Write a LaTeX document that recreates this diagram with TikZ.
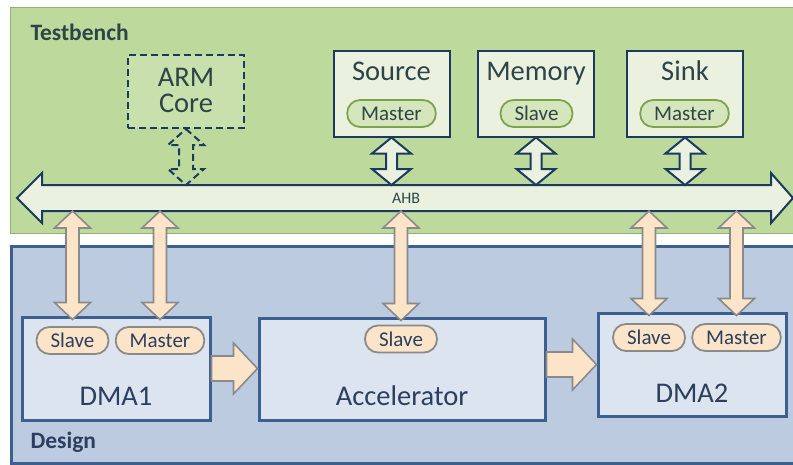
\documentclass[tikz,border=0pt]{standalone}
\usepackage{fontspec}
\setmainfont{Carlito}
\usepackage{xcolor}
\usetikzlibrary{calc, positioning}

\definecolor{tbgreen}{HTML}{BDD99B}
\definecolor{tbline}{HTML}{93AE78}
\definecolor{tbfill}{HTML}{EAF2DF}
\definecolor{armfill}{HTML}{C8E0AC}
\definecolor{navy}{HTML}{1C3A5E}
\definecolor{gpillfill}{HTML}{D5E5BC}
\definecolor{gpillline}{HTML}{7FA24F}
\definecolor{dsgfill}{HTML}{BDCBE0}
\definecolor{dsgline}{HTML}{3D5F8F}
\definecolor{dsgbox}{HTML}{DCE4F0}
\definecolor{peach}{HTML}{FCE4C8}
\definecolor{peachline}{HTML}{8A8A8A}
\definecolor{tbtext}{HTML}{2E4448}
\definecolor{dsgtext}{HTML}{2C3F5E}

% vertical double arrow: style, top, bottom, shaft half, head half, head length
\newcommand{\vdarrow}[6]{\draw[#1] let \p1=(#2), \p2=(#3) in
  (\x1,\y1) -- (\x1+#5,\y1-#6) -- (\x1+#4,\y1-#6) -- (\x1+#4,\y2+#6)
  -- (\x1+#5,\y2+#6) -- (\x1,\y2) -- (\x1-#5,\y2+#6) -- (\x1-#4,\y2+#6)
  -- (\x1-#4,\y1-#6) -- (\x1-#5,\y1-#6) -- cycle;}
% horizontal single arrow: from, to
\newcommand{\hsarrow}[2]{\draw[peacharrow] let \p1=(#1), \p2=(#2) in
  (\x1,\y1+12.5pt) -- (\x2-24pt,\y1+12.5pt) -- (\x2-24pt,\y1+25.5pt) -- (\x2,\y1)
  -- (\x2-24pt,\y1-25.5pt) -- (\x2-24pt,\y1-12.5pt) -- (\x1,\y1-12.5pt) -- cycle;}

\begin{document}
\begin{tikzpicture}[x=1pt, y=-1pt,
  tbpanel/.style={draw=tbline, line width=1pt, fill=tbgreen, anchor=north west},
  dsgpanel/.style={draw=dsgline, line width=3pt, fill=dsgfill, anchor=north west},
  title/.style={anchor=base west, font=\fontsize{23.5}{26}\selectfont\bfseries},
  tbbox/.style={draw=navy, line width=2pt, fill=tbfill, minimum width=116pt, minimum height=86pt},
  dsgbox/.style={draw=dsgline, line width=3pt, fill=dsgbox, minimum height=103pt},
  boxlabel/.style={anchor=base, font=\fontsize{28.5}{30}\selectfont},
  pill/.style={rounded corners=13pt, line width=1.8pt, inner xsep=14pt, inner ysep=0pt,
    minimum height=27pt, font=\fontsize{21}{22}\selectfont},
  gpill/.style={pill, draw=gpillline, fill=gpillfill, text=tbtext},
  opill/.style={pill, draw=peachline, fill=peach, text=dsgtext},
  tbarrow/.style={draw=navy, line width=2pt, fill=tbfill, line join=miter},
  armarrow/.style={draw=navy, line width=2pt, dash pattern=on 7pt off 4pt, fill=tbgreen},
  peacharrow/.style={draw=peachline, line width=1.6pt, fill=peach, line join=miter},
]
\useasboundingbox (0,0) rectangle (793,464);

% panels
\node[tbpanel, minimum width=800pt, minimum height=226pt] (tb) at (10,7) {};
\node[dsgpanel, minimum width=800pt, minimum height=217pt] (dsg) at (10,245) {};
\node[title, text=tbtext] (tbtitle) at (27,40) {Testbench};
\node[title, text=dsgtext] (dsgtitle) at (27,448) {Design};

% AHB bus
\draw[tbarrow] (17,198) -- (42,173) -- (42,185) -- (771,185) -- (771,173) -- (793,198)
  -- (771,223) -- (771,211) -- (42,211) -- (42,223) -- cycle;
\coordinate (bustop) at (0,185);
\coordinate (busbot) at (0,211);
\node[font=\fontsize{16}{18}\selectfont, text=tbtext] (ahb) at (406,198) {AHB};

% testbench
\node[tbbox, dash pattern=on 7pt off 4pt, fill=armfill, minimum height=73pt] (arm) at (186,91.5) {};
\node[boxlabel, text=tbtext, align=center, font=\fontsize{28.5}{26}\selectfont] (armlbl) at (186,112) {ARM\\Core};
\node[tbbox] (src) at (391.5,93.5) {};
\node[tbbox] (mem) at (536,93.5) {};
\node[tbbox] (sink) at (685,93.5) {};
\node[boxlabel, text=tbtext] (srclbl) at (391.5,80) {Source};
\node[boxlabel, text=tbtext] (memlbl) at (536,80) {Memory};
\node[boxlabel, text=tbtext] (sinklbl) at (685,80) {Sink};
\node[gpill] (srcm) at (391.5,113.5) {Master};
\node[gpill] (mems) at (536.5,113.5) {Slave};
\node[gpill] (sinkm) at (684.5,113.5) {Master};

\vdarrow{armarrow}{arm.south}{arm.south |- bustop}{7pt}{18pt}{16pt}
\vdarrow{tbarrow}{src.south}{src.south |- bustop}{5.5pt}{19.5pt}{16pt}
\vdarrow{tbarrow}{mem.south}{mem.south |- bustop}{5.5pt}{19.5pt}{16pt}
\vdarrow{tbarrow}{sink.south}{sink.south |- bustop}{5.5pt}{19.5pt}{16pt}

% design
\node[dsgbox, minimum width=188pt] (dma1) at (116,368.5) {};
\node[dsgbox, minimum width=286pt, minimum height=102pt] (acc) at (402,369) {};
\node[dsgbox, minimum width=188pt] (dma2) at (692,364.5) {};
\node[boxlabel, text=dsgtext] (dma1lbl) at (116,405) {DMA1};
\node[boxlabel, text=dsgtext] (acclbl) at (402,405) {Accelerator};
\node[boxlabel, text=dsgtext] (dma2lbl) at (692,402) {DMA2};
\node[opill] (dma1s) at (72.5,340.5) {Slave};
\node[opill] (dma1m) at (160,340.5) {Master};
\node[opill] (accs) at (401,339) {Slave};
\node[opill] (dma2s) at (649,337.5) {Slave};
\node[opill] (dma2m) at (736.5,337.5) {Master};

\vdarrow{peacharrow}{dma1s |- busbot}{$(dma1s |- dma1.north)+(0,4)$}{6.5pt}{18pt}{17pt}
\vdarrow{peacharrow}{dma1m |- busbot}{$(dma1m |- dma1.north)+(0,4)$}{6.5pt}{18pt}{17pt}
\vdarrow{peacharrow}{accs |- busbot}{$(accs |- acc.north)+(0,4)$}{6.5pt}{18pt}{17pt}
\vdarrow{peacharrow}{dma2s |- busbot}{$(dma2s |- dma2.north)+(0,4)$}{6.5pt}{18pt}{17pt}
\vdarrow{peacharrow}{dma2m |- busbot}{$(dma2m |- dma2.north)+(0,4)$}{6.5pt}{18pt}{17pt}

\hsarrow{dma1.east}{acc.west |- dma1.east}
\hsarrow{acc.east |- dma2.west}{dma2.west}
\end{tikzpicture}
\end{document}
